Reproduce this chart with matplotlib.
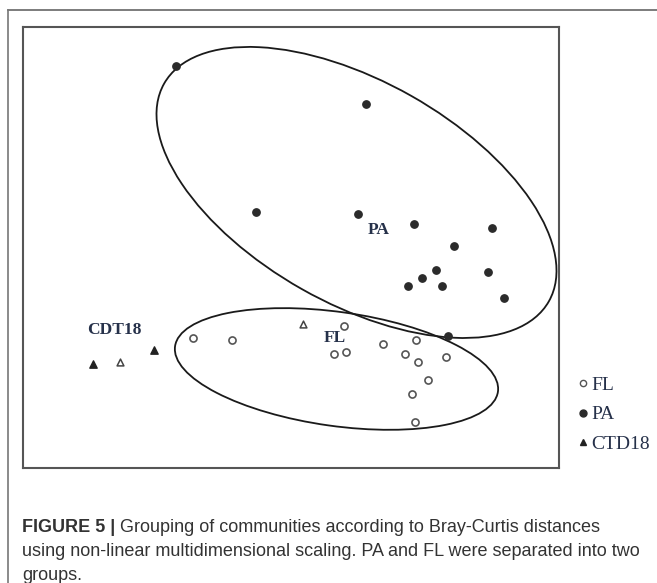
import matplotlib
matplotlib.use("Agg")
import matplotlib.pyplot as plt  # noqa: E402
from matplotlib.lines import Line2D  # noqa: E402
from matplotlib.patches import Ellipse  # noqa: E402

# NMDS coordinates
PA_X = [-0.62, 0.33, -0.22, 0.29, 0.57, 0.96, 0.77, 0.68, 0.94, 0.61, 0.54, 0.71, 1.02, 0.74]
PA_Y = [0.92, 0.73, 0.19, 0.18, 0.13, 0.11, 0.02, -0.10, -0.11, -0.14, -0.18, -0.18, -0.24, -0.43]
FL_X = [-0.535, -0.34, 0.22, 0.17, 0.23, 0.415, 0.58, 0.525, 0.59, 0.73, 0.64, 0.56, 0.575]
FL_Y = [-0.44, -0.45, -0.38, -0.52, -0.51, -0.47, -0.45, -0.52, -0.56, -0.535, -0.65, -0.72, -0.86]
CTD_FILLED_X = [-1.035, -0.73]
CTD_FILLED_Y = [-0.57, -0.50]
CTD_OPEN_X = [-0.90, 0.015]
CTD_OPEN_Y = [-0.56, -0.37]

# group ellipses: center, width, height, angle
PA_ELL = ((0.2825, 0.2875), 2.21, 1.11, -29.5)
FL_ELL = ((0.1825, -0.595), 1.63, 0.57, -8.0)

LABELS = [("PA", 0.395, 0.10), ("FL", 0.175, -0.44), ("CDT18", -0.93, -0.40)]
LEGEND = ["FL", "PA", "CTD18"]

CAPTION_BOLD = "FIGURE 5 | "
CAPTION = ["Grouping of communities according to Bray-Curtis distances",
           "using non-linear multidimensional scaling. PA and FL were separated into two",
           "groups."]

SERIF = ["Liberation Serif", "DejaVu Serif"]
INK = "#26314a"

fig = plt.figure(figsize=(6.57, 5.83), dpi=100)
ax = fig.add_axes([0.0346, 0.1973, 0.8163, 0.757])

ax.scatter(PA_X, PA_Y, s=28, color="#2b2b2b", zorder=3)
ax.scatter(FL_X, FL_Y, s=26, facecolor="white", edgecolor="#555555", linewidth=1.2, zorder=3)
ax.scatter(CTD_FILLED_X, CTD_FILLED_Y, s=28, marker="^", color="#222222", zorder=3)
ax.scatter(CTD_OPEN_X, CTD_OPEN_Y, s=24, marker="^", facecolor="white",
           edgecolor="#444444", linewidth=1.1, zorder=3)

for (c, w, h, a) in (PA_ELL, FL_ELL):
    ax.add_patch(Ellipse(c, w, h, angle=a, fill=False, edgecolor="#1a1a1a", lw=1.3, zorder=2))

for txt, x, y in LABELS:
    ax.text(x, y, txt, ha="center", va="center", fontsize=12.5, fontweight="bold",
            family=SERIF, color=INK)

ax.set_xlim(-1.386, 1.295)
ax.set_ylim(-1.09, 1.1165)
ax.set_xticks([]); ax.set_yticks([])
for sp in ax.spines.values():
    sp.set_color("#555555"); sp.set_linewidth(1.5)

handles = [
    Line2D([], [], ls="", marker="o", ms=4.5, mfc="white", mec="#555555", mew=1.0),
    Line2D([], [], ls="", marker="o", ms=5, mfc="#2b2b2b", mec="#2b2b2b"),
    Line2D([], [], ls="", marker="^", ms=5, mfc="#222222", mec="#222222"),
]
leg = ax.legend(handles, LEGEND, loc="upper left", bbox_to_anchor=(1.015, 0.23),
                frameon=False, handlelength=0.6, handletextpad=0.15, labelspacing=0.62,
                borderpad=0, prop={"family": SERIF, "size": 14})
for t in leg.get_texts():
    t.set_color(INK)

# outer frame of the figure panel
fig.add_artist(Line2D([7.7 / 657, 1.0], [1 - 9.5 / 583] * 2, color="#666666", lw=1.2))
fig.add_artist(Line2D([7.7 / 657] * 2, [0.0, 1 - 9.5 / 583], color="#777777", lw=1.2))

# caption
cap_kw = dict(family=["Liberation Sans", "DejaVu Sans"], fontsize=13, color="#333333",
              va="center")
bold = fig.text(22 / 657, 1 - 527 / 583, CAPTION_BOLD, fontweight="bold", **cap_kw)
r = fig.canvas.get_renderer()
bb = bold.get_window_extent(r).transformed(fig.transFigure.inverted())
fig.text(bb.x1, 1 - 527 / 583, CAPTION[0], **cap_kw)
fig.text(22 / 657, 1 - 552 / 583, CAPTION[1], **cap_kw)
fig.text(22 / 657, 1 - 576 / 583, CAPTION[2], **cap_kw)

fig.savefig("out.png", dpi=100)
